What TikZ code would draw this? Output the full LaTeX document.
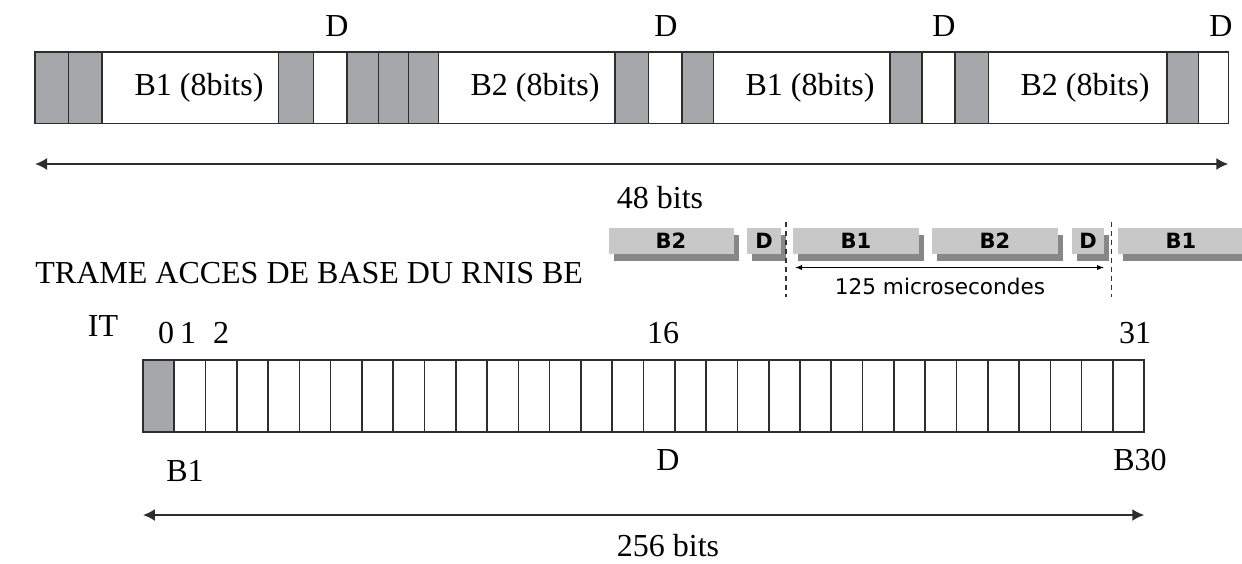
\documentclass[tikz,border=0pt]{standalone}
\usepackage{fontspec}
\setmainfont{Liberation Serif}
\newfontfamily\insetfont{DejaVu Sans}
\usetikzlibrary{arrows.meta}
\definecolor{bitgray}{RGB}{166,167,171}
\definecolor{chgray}{RGB}{200,200,200}
\definecolor{shgray}{RGB}{135,135,135}
\definecolor{edge}{RGB}{45,45,45}
\tikzset{
  slot/.style={draw=edge, line width=0.8pt, fill=white},
  graybit/.style={slot, fill=bitgray},
  lbl/.style={font=\fontsize{16}{19}\selectfont, inner sep=0pt},
  span/.style={{Latex[length=6pt,width=6pt]}-{Latex[length=6pt,width=6pt]}, line width=1pt, draw=edge},
  chan/.style={fill=chgray},
  dropshadow/.style={fill=shgray},
  chanlbl/.style={font=\insetfont\bfseries\fontsize{10.5}{12}\selectfont, inner sep=0pt},
  cut/.style={draw=black!80, line width=0.6pt, dash pattern=on 2.5pt off 2pt},
  usarrow/.style={{Latex[length=3.5pt,width=2.6pt]}-{Latex[length=3.5pt,width=2.6pt]}, line width=0.5pt}
}

\begin{document}
\begin{tikzpicture}[x=0.5pt, y=-0.5pt]
\useasboundingbox (0,0) rectangle (1242,563);

% trame 2B+D (48 bits)
\foreach \xa/\xb/\st in {35/68.3/graybit, 68.3/101.7/graybit, 101.7/278.3/slot,
    278.3/313.3/graybit, 313.3/346.7/slot, 346.7/378.3/graybit, 378.3/408.3/graybit,
    408.3/438.3/graybit, 438.3/615/slot, 615/648.3/graybit, 648.3/681.7/slot,
    681.7/713.3/graybit, 713.3/890/slot, 890/921.7/graybit, 921.7/955/slot,
    955/988.3/graybit, 988.3/1166.7/slot, 1166.7/1198.3/graybit, 1198.3/1228.3/slot}
  \draw[\st] (\xa,52) rectangle (\xb,123.3);
\node[lbl] (b1a) at (199,88) {B1 (8bits)};
\node[lbl] (b2a) at (535,88) {B2 (8bits)};
\node[lbl] (b1b) at (810,88) {B1 (8bits)};
\node[lbl] (b2b) at (1085,88) {B2 (8bits)};
\foreach \x [count=\i] in {337,666,944,1221}
  \node[lbl] (d\i) at (\x,26) {D};
\coordinate (sl) at (35,164);
\coordinate (sr) at (1228.3,164);
\draw[span] (sl) -- (sr);
\node[lbl] (n48) at (660,198) {48 bits};

% titre et chronogramme
\node[lbl, anchor=west] (titre) at (35,273) {TRAME ACCES DE BASE DU RNIS BE};
\foreach \xa/\xb/\txt in {608.5/734/B2, 746.7/781/D, 793.3/919.3/B1,
    932.3/1057.7/B2, 1071.7/1104.3/D, 1117.7/1250/B1} {
  \fill[dropshadow] (\xa+5,235) rectangle (\xb+5,261);
  \fill[chan] (\xa,228) rectangle (\xb,254);
}
\node[chanlbl] (c1) at (671,241) {B2};
\node[chanlbl] (c2) at (764,241) {D};
\node[chanlbl] (c3) at (856,241) {B1};
\node[chanlbl] (c4) at (995,241) {B2};
\node[chanlbl] (c5) at (1088,241) {D};
\node[chanlbl] (c6) at (1181,241) {B1};
\coordinate (ct1) at (786,221.7);
\coordinate (cb1) at (786,296.7);
\coordinate (ct2) at (1111.7,221.7);
\coordinate (cb2) at (1111.7,296.7);
\draw[cut] (ct1) -- (cb1);
\draw[cut] (ct2) -- (cb2);
\coordinate (ul) at (795,267.5);
\coordinate (ur) at (1104,267.5);
\draw[usarrow] (ul) -- (ur);
\node[font=\insetfont\fontsize{10.8}{12}\selectfont, inner sep=0pt] (us) at (940,286.5) {125 microsecondes};

% trame MIC 32 IT (256 bits)
\node[lbl] (it) at (103,326) {IT};
\foreach \i in {0,...,31}
  \draw[slot] ({142.9+\i*31.29},360) rectangle ({142.9+(\i+1)*31.29},431.7);
\draw[graybit] (142.9,360) rectangle (174.2,431.7);
\node[lbl] (i0) at (166,333) {0};
\node[lbl] (i1) at (188,333) {1};
\node[lbl] (i2) at (221,333) {2};
\node[lbl] (i16) at (663,333) {16};
\node[lbl] (i31) at (1135,333) {31};
\node[lbl] (lb1) at (185,471) {B1};
\node[lbl] (ld) at (668,460) {D};
\node[lbl] (lb30) at (1140,460) {B30};
\coordinate (ml) at (142.9,515);
\coordinate (mr) at (1144.3,515);
\draw[span] (ml) -- (mr);
\node[lbl] (n256) at (668,546) {256 bits};
\end{tikzpicture}
\end{document}
